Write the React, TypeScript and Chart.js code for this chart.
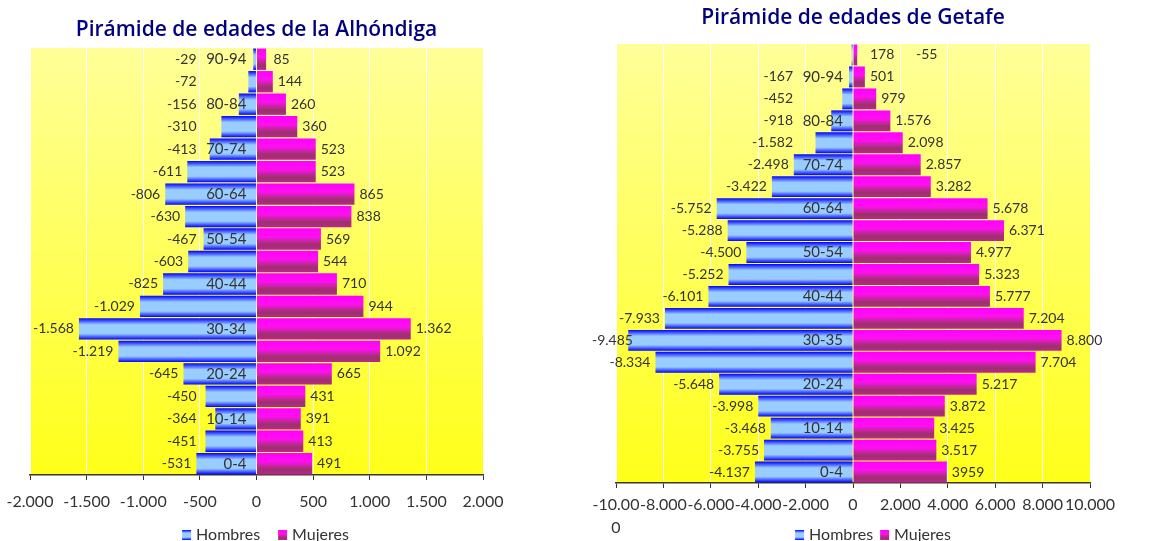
import React, { useEffect, useRef } from 'react';
import { Chart, registerables } from 'chart.js';

Chart.register(...registerables);

// ---------- Data ----------
const alhondigaAges = ['0-4', '5-9', '10-14', '15-19', '20-24', '25-29', '30-34', '35-39', '40-44', '45-49', '50-54', '55-59', '60-64', '65-69', '70-74', '75-79', '80-84', '85-89', '90-94'];
const alhondigaHombres = [-531, -451, -364, -450, -645, -1219, -1568, -1029, -825, -603, -467, -630, -806, -611, -413, -310, -156, -72, -29];
const alhondigaMujeres = [491, 413, 391, 431, 665, 1092, 1362, 944, 710, 544, 569, 838, 865, 523, 523, 360, 260, 144, 85];
const alhondigaRange = [-2000, 2000];
const alhondigaStep = 500;

const getafeAges = ['0-4', '5-9', '10-14', '15-19', '20-24', '25-29', '30-35', '35-39', '40-44', '45-49', '50-54', '55-59', '60-64', '65-69', '70-74', '75-79', '80-84', '85-89', '90-94', '95 y más'];
const getafeHombres = [-4137, -3755, -3468, -3998, -5648, -8334, -9485, -7933, -6101, -5252, -4500, -5288, -5752, -3422, -2498, -1582, -918, -452, -167, -55];
const getafeMujeres = [3959, 3517, 3425, 3872, 5217, 7704, 8800, 7204, 5777, 5323, 4977, 6371, 5678, 3282, 2857, 2098, 1576, 979, 501, 178];
const getafeRange = [-10000, 10000];
const getafeStep = 2000;
// label text exactly as printed in the original (no thousands separator)
const getafeMujeresLabelText: Record<number, string> = { 0: '3959' };

const seriesNames = ['Hombres', 'Mujeres'];

// ---------- Styles ----------
const FONT = "Lato, 'Noto Sans', sans-serif";
const TITLE_FONT = "'Open Sans', Lato, sans-serif";
const TEXT = '#333333';
const CANVAS_H = 541;

function fmt(v: number): string {
  const s = Math.abs(v).toString().replace(/\B(?=(\d{3})+(?!\d))/g, '.');
  return (v < 0 ? '-' : '') + s;
}

function makeGrad(ctx: CanvasRenderingContext2D, kind: string, y0: number, y1: number) {
  const g = ctx.createLinearGradient(0, y0, 0, y1);
  if (kind === 'blue') {
    g.addColorStop(0, '#0000ff');
    g.addColorStop(0.3, '#99ccff');
    g.addColorStop(0.72, '#99ccff');
    g.addColorStop(1, '#0000ff');
  } else {
    g.addColorStop(0, '#ff00ff');
    g.addColorStop(0.4, '#ff10f0');
    g.addColorStop(0.78, '#993366');
    g.addColorStop(1, '#c0209a');
  }
  return g;
}

function barFill(kind: string) {
  return (c: any) => {
    const solid = kind === 'blue' ? '#6f9fff' : '#e010e0';
    if (c.type !== 'data') return solid;
    const ys = c.chart.scales.y;
    if (!ys || !ys.height) return solid;
    const n = c.chart.data.labels.length;
    const yc = ys.getPixelForValue(c.dataIndex);
    const h = (ys.height / n) * 0.95;
    return makeGrad(c.chart.ctx, kind, yc - h / 2, yc + h / 2);
  };
}

const pyramidPlugin = {
  id: 'pyramid',
  beforeDraw(chart: any) {
    const { ctx, chartArea: a } = chart;
    if (!a) return;
    const g = ctx.createLinearGradient(0, a.top, 0, a.bottom);
    g.addColorStop(0, '#ffff99');
    g.addColorStop(1, '#ffff1a');
    ctx.save();
    ctx.fillStyle = g;
    ctx.fillRect(a.left, a.top, a.right - a.left, a.bottom - a.top);
    ctx.restore();
  },
  afterDatasetsDraw(chart: any, _args: any, opts: any) {
    const { ctx } = chart;
    const xs = chart.scales.x;
    const ys = chart.scales.y;
    const zeroX = xs.getPixelForValue(0);
    ctx.save();
    ctx.fillStyle = TEXT;
    ctx.textBaseline = 'middle';
    ctx.font = `14px ${FONT}`;
    chart.data.datasets.forEach((ds: any, di: number) => {
      const meta = chart.getDatasetMeta(di);
      meta.data.forEach((el: any, i: number) => {
        const v = ds.data[i];
        const over = opts.overrides && opts.overrides[di] ? opts.overrides[di][i] : undefined;
        const txt = over !== undefined ? over : fmt(v);
        const w = ctx.measureText(txt).width;
        let x: number;
        if (v < 0) {
          if (i === opts.flipIndex) {
            ctx.textAlign = 'left';
            x = zeroX + 63;
          } else {
            ctx.textAlign = 'right';
            x = Math.max(Math.min(el.x - 5, zeroX - 60), w + 2);
          }
        } else {
          ctx.textAlign = 'left';
          x = Math.max(el.x + 5, zeroX + 17);
        }
        ctx.fillText(txt, x, el.y);
      });
    });
    ctx.font = `15px ${FONT}`;
    ctx.textAlign = 'right';
    chart.data.labels.forEach((lab: string, i: number) => {
      if (i % 2 === 0) ctx.fillText(lab, zeroX - 10, ys.getPixelForValue(i));
    });
    ctx.restore();
  },
  afterDraw(chart: any, _args: any, opts: any) {
    // legend (bottom, centred under the plot area)
    const { ctx, chartArea: a } = chart;
    ctx.save();
    ctx.font = `16px ${FONT}`;
    ctx.textBaseline = 'middle';
    ctx.textAlign = 'left';
    const box = 9, gap = 5, spacing = opts.legendSpacing;
    const names = chart.data.datasets.map((d: any) => d.label);
    const widths = names.map((t: string) => ctx.measureText(t).width);
    const total = widths.reduce((s: number, w: number) => s + box + gap + w, 0) + spacing * (names.length - 1);
    let x = (a.left + a.right) / 2 + opts.legendShift - total / 2;
    const yc = opts.legendY;
    names.forEach((t: string, i: number) => {
      ctx.fillStyle = makeGrad(ctx, i === 0 ? 'blue' : 'mag', yc - 5, yc + 5);
      ctx.fillRect(x, yc - 5, box, 10);
      ctx.fillStyle = TEXT;
      ctx.fillText(t, x + box + gap, yc);
      x += box + gap + widths[i] + spacing;
    });
    ctx.restore();
  },
};

function makeConfig(p: any) {
  return {
    type: 'bar',
    data: {
      labels: p.labels,
      datasets: [
        { label: seriesNames[0], data: p.hombres, backgroundColor: barFill('blue'), borderWidth: 0, categoryPercentage: 0.95, barPercentage: 1 },
        { label: seriesNames[1], data: p.mujeres, backgroundColor: barFill('mag'), borderWidth: 0, categoryPercentage: 0.95, barPercentage: 1 },
      ],
    },
    options: {
      indexAxis: 'y',
      responsive: false,
      animation: false,
      layout: { padding: { left: p.padLeft, right: p.padRight, top: 0, bottom: 0 } },
      scales: {
        x: {
          type: 'linear',
          min: p.range[0],
          max: p.range[1],
          stacked: true,
          ticks: {
            stepSize: p.step,
            autoSkip: false,
            maxRotation: 0,
            color: TEXT,
            padding: p.tickPad,
            font: { family: FONT, size: 16, lineHeight: p.tickLineHeight },
            callback: p.tickFmt,
          },
          grid: { color: '#ffffff', lineWidth: 1, tickColor: '#333333', tickLength: 5, drawTicks: true },
          border: { display: true, color: '#3a3a1a', width: 1.5 },
          afterFit: (s: any) => {
            s.height = p.axisH;
            s.paddingLeft = 0;
            s.paddingRight = 0;
          },
        },
        y: { type: 'category', display: false, stacked: true, reverse: true },
      },
      plugins: {
        tooltip: { enabled: false },
        legend: { display: false },
        title: {
          display: true,
          text: p.title,
          color: '#000080',
          font: { family: TITLE_FONT, size: 21, weight: '600', lineHeight: 1.2 },
          padding: { top: p.titleTop, bottom: p.titleBottom },
        },
        pyramid: {
          flipIndex: p.flipIndex,
          overrides: p.overrides,
          legendShift: p.legendShift,
          legendSpacing: p.legendSpacing,
          legendY: 535,
        },
      },
    },
    plugins: [pyramidPlugin],
  };
}

function PyramidChart({ cfg, width }: { cfg: any; width: number }) {
  const ref = useRef<HTMLCanvasElement | null>(null);
  useEffect(() => {
    if (!ref.current) return;
    const chart = new Chart(ref.current, makeConfig(cfg) as any);
    return () => chart.destroy();
  }, []);
  return <canvas ref={ref} width={width} height={CANVAS_H} style={{ display: 'block' }} />;
}

const leftCfg = {
  title: 'Pirámide de edades de la Alhóndiga',
  labels: alhondigaAges,
  hombres: alhondigaHombres,
  mujeres: alhondigaMujeres,
  range: alhondigaRange,
  step: alhondigaStep,
  tickFmt: (v: any) => fmt(Number(v)),
  padLeft: 30,
  padRight: 77,
  titleTop: 17.4,
  titleBottom: 5.4,
  axisH: CANVAS_H - 475,
  tickPad: 12.5,
  tickLineHeight: 1.2,
  flipIndex: -1,
  overrides: {},
  legendShift: 9,
  legendSpacing: 18,
};

const rightCfg = {
  title: 'Pirámide de edades de Getafe',
  labels: getafeAges,
  hombres: getafeHombres,
  mujeres: getafeMujeres,
  range: getafeRange,
  step: getafeStep,
  tickFmt: (v: any) => {
    const s = fmt(Number(v));
    return s.length > 6 ? [s.slice(0, 6), s.slice(6)] : s;
  },
  padLeft: 26,
  padRight: 74,
  titleTop: 5.4,
  titleBottom: 13.4,
  axisH: CANVAS_H - 483,
  tickPad: 5.5,
  tickLineHeight: 1.4375,
  flipIndex: 19,
  overrides: { 1: getafeMujeresLabelText },
  legendShift: 20,
  legendSpacing: 7,
};

export default function App() {
  return (
    <div style={{ position: 'fixed', left: 0, top: 0, width: 1164, height: 541, overflow: 'hidden', background: '#ffffff' }}>
      <div style={{ position: 'absolute', left: 0, top: 0, width: 560, height: CANVAS_H }}>
        <PyramidChart cfg={leftCfg} width={560} />
      </div>
      <div style={{ position: 'absolute', left: 590, top: 0, width: 574, height: CANVAS_H }}>
        <PyramidChart cfg={rightCfg} width={574} />
      </div>
    </div>
  );
}
